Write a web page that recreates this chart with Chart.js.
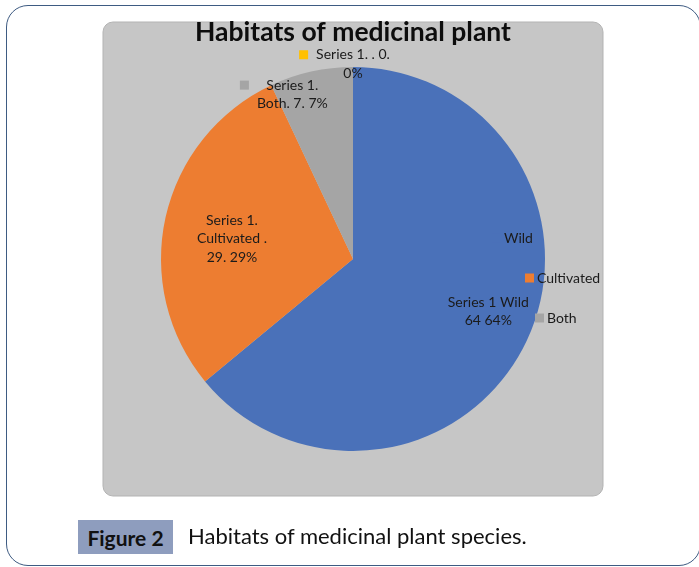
<!DOCTYPE html>
<html>
<head>
<meta charset="utf-8">
<script src="https://cdn.jsdelivr.net/npm/chart.js@4.4.1/dist/chart.umd.min.js"></script>
<style>
  html, body { margin: 0; padding: 0; background: #ffffff; }
  body { width: 699px; height: 567px; position: relative; overflow: hidden; font-family: Lato, "Open Sans", sans-serif; }
  #frame { position: absolute; left: 6px; top: 5px; width: 695px; height: 561px; border: 1.5px solid #3e5b82; border-radius: 22px; box-sizing: border-box; }
  #chartWrap { position: absolute; left: 0; top: 0; width: 699px; height: 567px; }
  #figLabel { position: absolute; left: 78px; top: 520px; width: 95px; height: 34px; background: #8e9dbe; color: #111; font-weight: bold; font-size: 21px; line-height: 35px; text-align: center; }
  #figText { position: absolute; left: 188px; top: 519px; height: 34px; line-height: 34px; font-size: 22px; color: #111; white-space: nowrap; }
</style>
</head>
<body>
<div id="frame"></div>
<div id="chartWrap"><canvas id="c" width="699" height="567"></canvas></div>
<div id="figLabel">Figure 2</div>
<div id="figText">Habitats of medicinal plant species.</div>
<script>
// ---- data ----
const seriesName = "Series 1";
const categories = ["Wild", "Cultivated", "Both", ""];
const values = [64, 29, 7, 0];
const percents = [64, 29, 7, 0];
const sliceColors = ["#4a71b9", "#ed7d31", "#a5a5a5", "#ffc000"];
const legendLabels = ["Wild", "Cultivated", "Both"];
const titleText = "Habitats of medicinal plant";

// data label text lines (Excel-style formatting, built from the arrays)
const labelLines = [
  [seriesName + " " + categories[0], values[0] + " " + percents[0] + "%"],
  [seriesName + ".", categories[1] + " .", values[1] + ". " + percents[1] + "%"],
  [seriesName + ".", categories[2] + ". " + values[2] + ". " + percents[2] + "%"],
  [seriesName + ". " + categories[3] + ". " + values[3] + ".", percents[3] + "%"]
];

const FONT = 'Lato, "Open Sans", sans-serif';

const bgPlugin = {
  id: 'bgBox',
  beforeDraw(chart) {
    const ctx = chart.ctx;
    ctx.save();
    const x = 103, y = 22, w = 500, h = 474, r = 10;
    ctx.beginPath();
    ctx.moveTo(x + r, y);
    ctx.arcTo(x + w, y, x + w, y + h, r);
    ctx.arcTo(x + w, y + h, x, y + h, r);
    ctx.arcTo(x, y + h, x, y, r);
    ctx.arcTo(x, y, x + w, y, r);
    ctx.closePath();
    ctx.fillStyle = '#c6c6c6';
    ctx.fill();
    ctx.strokeStyle = '#b3b3b3';
    ctx.lineWidth = 1;
    ctx.stroke();
    ctx.restore();
  }
};

const labelPlugin = {
  id: 'sliceLabels',
  afterDatasetsDraw(chart, args, opts) {
    const ctx = chart.ctx;
    const meta = chart.getDatasetMeta(0);
    ctx.save();
    ctx.font = opts.fontSize + 'px ' + FONT;
    ctx.fillStyle = '#1b1b1b';
    ctx.textAlign = 'center';
    ctx.textBaseline = 'middle';
    meta.data.forEach((el, i) => {
      const p = el.getProps(['x', 'y', 'startAngle', 'endAngle', 'outerRadius'], true);
      const cfg = opts.place[i];
      const mid = (p.startAngle + p.endAngle) / 2;
      const cx = p.x + Math.cos(mid) * p.outerRadius * cfg.f + cfg.dx;
      const cy = p.y + Math.sin(mid) * p.outerRadius * cfg.f + cfg.dy;
      const lines = labelLines[i];
      const lh = opts.lineHeight;
      const top = cy - (lines.length - 1) * lh / 2;
      let maxW = 0;
      lines.forEach(t => { maxW = Math.max(maxW, ctx.measureText(t).width); });
      lines.forEach((t, k) => ctx.fillText(t, cx, top + k * lh));
      if (cfg.marker) {
        ctx.fillStyle = sliceColors[i];
        ctx.fillRect(cx - maxW / 2 - 17, top - 4.5, 9, 9);
        ctx.fillStyle = '#1b1b1b';
      }
    });
    ctx.restore();
  }
};

const legendPlugin = {
  id: 'freeLegend',
  afterDraw(chart, args, opts) {
    const ctx = chart.ctx;
    ctx.save();
    ctx.font = opts.fontSize + 'px ' + FONT;
    ctx.textAlign = 'left';
    ctx.textBaseline = 'middle';
    legendLabels.forEach((t, i) => {
      const it = opts.items[i];
      ctx.fillStyle = sliceColors[i];
      ctx.fillRect(it.x, it.y - 4.5, 9, 9);
      ctx.fillStyle = '#1b1b1b';
      ctx.fillText(t, it.x + 12, it.y);
    });
    ctx.restore();
  }
};

new Chart(document.getElementById('c'), {
  type: 'pie',
  data: {
    labels: categories,
    datasets: [{
      label: seriesName,
      data: values,
      backgroundColor: sliceColors,
      borderWidth: 0
    }]
  },
  options: {
    responsive: false,
    animation: false,
    rotation: 0,
    layout: { padding: { top: 17, left: 161, right: 154, bottom: 116 } },
    plugins: {
      legend: { display: false },
      tooltip: { enabled: false },
      title: {
        display: true,
        text: titleText,
        color: '#0d0d0d',
        font: { family: FONT, size: 26.5, weight: 'bold', lineHeight: 1.2 },
        padding: { top: 0, bottom: 18.2 }
      },
      sliceLabels: {
        fontSize: 14,
        lineHeight: 18.5,
        place: [
          { f: 0.75, dx: 5, dy: -9, marker: false },
          { f: 0.63, dx: -3, dy: 6, marker: false },
          { f: 0.9, dx: -23, dy: 4, marker: true },
          { f: 1.0, dx: 0, dy: -3, marker: true }
        ]
      },
      freeLegend: {
        fontSize: 14,
        items: [
          { x: 492, y: 238 },
          { x: 525, y: 278 },
          { x: 535, y: 318 }
        ]
      }
    }
  },
  plugins: [bgPlugin, labelPlugin, legendPlugin]
});
</script>
</body>
</html>
